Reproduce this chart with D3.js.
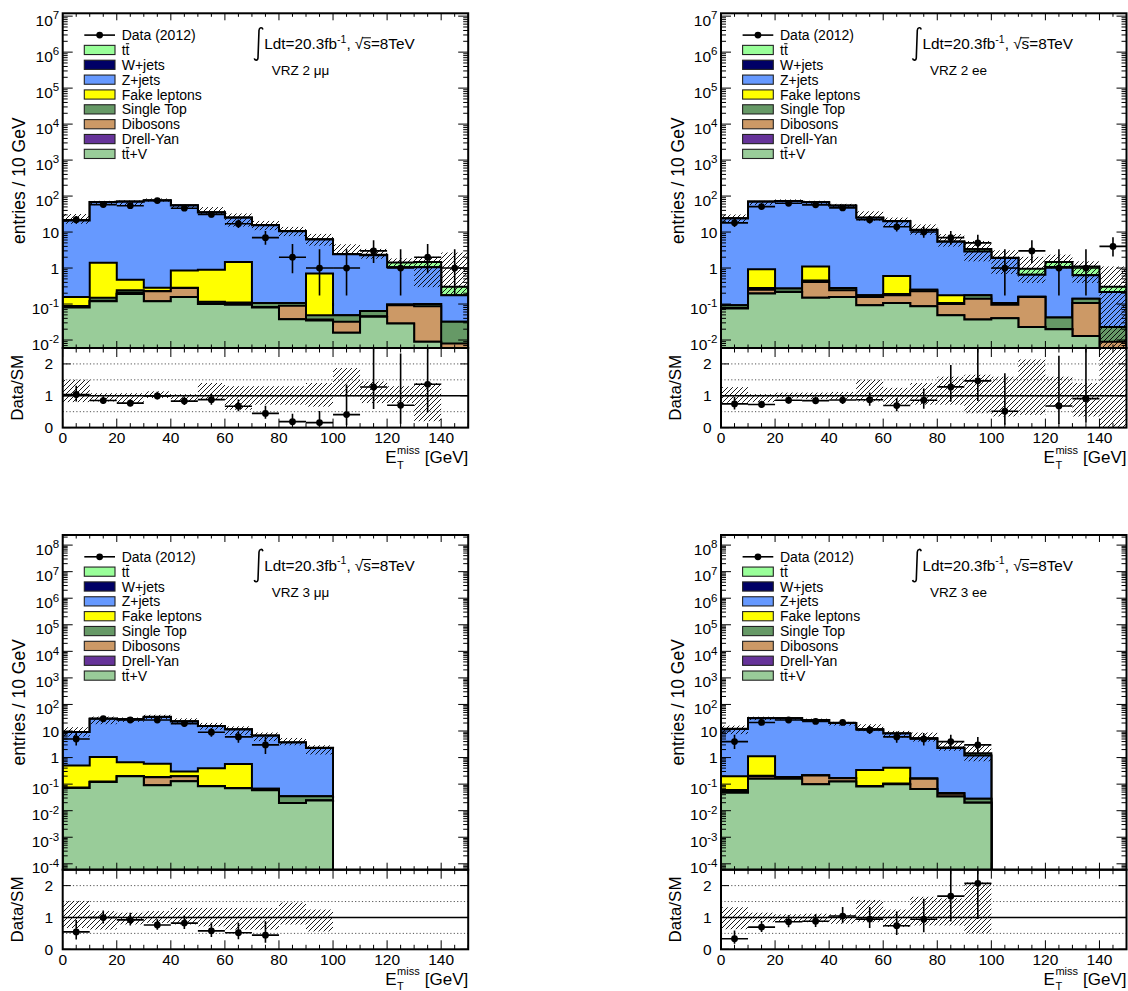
<!DOCTYPE html>
<html>
<head>
<meta charset="utf-8">
<script src="https://cdn.jsdelivr.net/npm/d3@7"></script>
<style>
  body { margin: 0; background: #fff; }
  svg { display: block; }
  text { font-family: "Liberation Sans", Arial, Helvetica, sans-serif; fill: #000; }
</style>
</head>
<body>
<svg id="chart" width="1128" height="991"></svg>
<script>
// ---- binning and axes -------------------------------------------------
const binEdges = [0, 10, 20, 30, 40, 50, 60, 70, 80, 90, 100, 110, 120, 130, 140, 150];
const xTickLabels = [0, 20, 40, 60, 80, 100, 120, 140];
const ratioTickLabels = [0, 1, 2];
const ratioGuides = [0.5, 1.5, 2];

// stacking order, bottom to top
const stackOrder = ["ttV", "drellyan", "dibosons", "singletop", "fakes", "zjets", "wjets", "ttbar"];
// legend order, top of the stack first
const legendOrder = ["ttbar", "wjets", "zjets", "fakes", "singletop", "dibosons", "drellyan", "ttV"];
const legendLabels = {
  ttbar: "tt", wjets: "W+jets", zjets: "Z+jets", fakes: "Fake leptons",
  singletop: "Single Top", dibosons: "Dibosons", drellyan: "Drell-Yan", ttV: "tt+V"
};
const sampleColors = {
  ttbar: "#99ff99", wjets: "#000066", zjets: "#6699ff", fakes: "#ffff00",
  singletop: "#669966", dibosons: "#cc9966", drellyan: "#663399", ttV: "#99cc99"
};

// ---- VRZ 2 mumu --------------------------------------------------------
const mm2_data      = [22, 58, 54, 75, 46, 31, 17, 7, 2, 1, 1, 3, 1, 2, 1];
const mm2_ttbar     = [0.2, 0.3, 0.3, 0.3, 0.3, 0.3, 0.3, 0.2, 0.2, 0.15, 0.05, 0.1, 0.38, 0.42, 0.125];
const mm2_wjets     = [0, 0, 0, 0, 0, 0, 0, 0, 0, 0, 0, 0, 0, 0, 0];
const mm2_zjets     = [20.8, 66.6, 69.5, 74.7, 54.1, 34.1, 23.5, 15.4, 10.4, 5.5, 2.35, 2.19, 0.95, 0.95, 0.143];
const mm2_fakes     = [0.07, 1.25, 0.235, 0.055, 0.575, 0.785, 1.36, 0, 0, 0.651, 0, 0, 0, 0, 0];
const mm2_singletop = [0.006, 0.027, 0.03, 0.005, 0.005, 0.01, 0.01, 0.024, 0.018, 0.012, 0.017, 0.018, 0.004, 0.013, 0.024];
const mm2_dibosons  = [0.002, 0.003, 0.02, 0.105, 0.123, 0.005, 0.005, 0.003, 0.051, 0.002, 0.016, 0.002, 0.064, 0.078, 0.005];
const mm2_drellyan  = [0, 0, 0, 0, 0, 0, 0, 0, 0, 0, 0, 0, 0, 0, 0];
const mm2_ttV       = [0.08, 0.12, 0.19, 0.12, 0.157, 0.1, 0.095, 0.08, 0.038, 0.035, 0.016, 0.044, 0.029, 0.009, 0.003];
const mm2_uncUp     = [1.5, 1.08, 1.08, 1.14, 1.05, 1.4, 1.3, 1.3, 1.3, 1.4, 1.87, 1.45, 1.3, 1.4, 9.0];
const mm2_uncDown   = [0.8, 0.82, 0.77, 0.93, 0.82, 0.87, 0.56, 0.72, 0.72, 0.66, 0.98, 0.77, 0.77, 0.2, 0.62];

// ---- VRZ 2 ee ----------------------------------------------------------
const ee2_data      = [18, 51, 63, 57, 47, 22, 14, 10, 7, 5, 1, 3, 1, 1, 4];
const ee2_ttbar     = [0.2, 0.3, 0.3, 0.3, 0.3, 0.2, 0.2, 0.15, 0.1, 0.5, 0.05, 0.31, 0.4, 0.47, 0.084];
const ee2_wjets     = [0, 0, 0, 0, 0, 0, 0, 0, 0, 0, 0, 0, 0, 0, 0];
const ee2_zjets     = [23.9, 69.1, 72.7, 65.9, 53.7, 24.8, 19.4, 11.25, 5.2, 2.73, 1.79, 0.49, 1.03, 0.49, 0.193];
const ee2_fakes     = [0, 0.64, 0, 0.65, 0, 0, 0.41, 0, 0.068, 0, 0, 0, 0, 0, 0];
const ee2_singletop = [0.015, 0.03, 0.05, 0.04, 0.04, 0.018, 0.015, 0.024, 0.007, 0.035, 0.011, 0.003, 0.022, 0.033, 0.014];
const ee2_dibosons  = [0.003, 0.055, 0.004, 0.26, 0.083, 0.064, 0.068, 0.139, 0.051, 0.103, 0.056, 0.134, 0, 0.094, 0.005];
const ee2_drellyan  = [0, 0, 0, 0, 0, 0, 0, 0, 0, 0, 0, 0, 0, 0, 0];
const ee2_ttV       = [0.075, 0.195, 0.216, 0.15, 0.157, 0.093, 0.107, 0.087, 0.049, 0.037, 0.04, 0.023, 0.02, 0.013, 0.004];
const ee2_uncUp     = [1.27, 1.05, 1.1, 1.1, 1.12, 1.5, 1.25, 1.4, 1.6, 1.66, 1.6, 2.14, 1.6, 1.4, 3.7];
const ee2_uncDown   = [0.78, 0.8, 0.92, 0.9, 0.88, 0.82, 0.72, 0.72, 0.72, 0.45, 0.35, 0.4, 0.66, 0.35, 0.02];

// ---- VRZ 3 mumu --------------------------------------------------------
const mm3_data      = [5, 29, 26, 26, 19, 9, 6, 3, 0, 0, 0, 0, 0, 0, 0];
const mm3_ttbar     = [0.05, 0.1, 0.1, 0.1, 0.1, 0.05, 0.05, 0.05, 0.03, 0.03, 0, 0, 0, 0, 0];
const mm3_wjets     = [0, 0, 0, 0, 0, 0, 0, 0, 0, 0, 0, 0, 0, 0, 0];
const mm3_zjets     = [8.6, 27.95, 27.34, 33.41, 22.7, 15.1, 10.93, 6.63, 3.665, 2.265, 0, 0, 0, 0, 0];
const mm3_fakes     = [0.425, 0.925, 0.46, 0.405, 0.1, 0.315, 0.498, 0, 0, 0, 0, 0, 0, 0, 0];
const mm3_singletop = [0.003, 0.005, 0.003, 0.005, 0.003, 0.002, 0.002, 0.008, 0.0154, 0.011, 0, 0, 0, 0, 0];
const mm3_dibosons  = [0, 0, 0, 0.09, 0.069, 0, 0, 0, 0, 0, 0, 0, 0, 0, 0];
const mm3_drellyan  = [0, 0, 0, 0, 0, 0, 0, 0, 0, 0, 0, 0, 0, 0, 0];
const mm3_ttV       = [0.072, 0.12, 0.197, 0.09, 0.128, 0.083, 0.07, 0.059, 0.0196, 0.024, 0, 0, 0, 0, 0];
const mm3_uncUp     = [1.52, 1.2, 1.15, 1.2, 1.3, 1.3, 1.3, 1.3, 1.47, 1.25, null, null, null, null, null];
const mm3_uncDown   = [0.67, 0.62, 0.78, 0.83, 0.78, 0.72, 0.62, 0.62, 0.78, 0.56, null, null, null, null, null];

// ---- VRZ 3 ee ----------------------------------------------------------
const ee3_data      = [4, 21, 26, 23, 21, 11, 6, 5, 4, 3, 0, 0, 0, 0, 0];
const ee3_ttbar     = [0.1, 0.1, 0.1, 0.1, 0.1, 0.1, 0.1, 0.1, 0.1, 0.26, 0, 0, 0, 0, 0];
const ee3_wjets     = [0, 0, 0, 0, 0, 0, 0, 0, 0, 0, 0, 0, 0, 0, 0];
const ee3_zjets     = [11.8, 28.88, 29.82, 25.79, 19.83, 11.16, 7.59, 5.04, 2.25, 1.16, 0, 0, 0, 0, 0];
const ee3_fakes     = [0.14, 0.915, 0, 0, 0, 0.255, 0.305, 0, 0, 0, 0, 0, 0, 0, 0];
const ee3_singletop = [0.008, 0.005, 0.005, 0.005, 0.003, 0.004, 0.005, 0.004, 0.003, 0.008, 0, 0, 0, 0, 0];
const ee3_dibosons  = [0.005, 0.042, 0.022, 0.11, 0.042, 0, 0, 0.092, 0.009, 0, 0, 0, 0, 0, 0];
const ee3_drellyan  = [0, 0, 0, 0, 0, 0, 0, 0, 0, 0, 0, 0, 0, 0, 0];
const ee3_ttV       = [0.047, 0.158, 0.158, 0.1, 0.125, 0.081, 0.1, 0.066, 0.034, 0.02, 0, 0, 0, 0, 0];
const ee3_uncUp     = [1.32, 1.15, 1.1, 1.12, 1.1, 1.55, 1.25, 1.65, 1.6, 2.1, null, null, null, null, null];
const ee3_uncDown   = [0.63, 0.85, 0.88, 0.85, 0.8, 0.85, 0.7, 0.75, 0.75, 0.5, null, null, null, null, null];

// ---- region table built from the arrays above ------------------------
const regions = [
  { label: "VRZ 2 μμ", yDomain: [0.006, 1.2e7], data: mm2_data, uncUp: mm2_uncUp, uncDown: mm2_uncDown,
    samples: { ttbar: mm2_ttbar, wjets: mm2_wjets, zjets: mm2_zjets, fakes: mm2_fakes, singletop: mm2_singletop,
               dibosons: mm2_dibosons, drellyan: mm2_drellyan, ttV: mm2_ttV } },
  { label: "VRZ 2 ee", yDomain: [0.006, 1.2e7], data: ee2_data, uncUp: ee2_uncUp, uncDown: ee2_uncDown,
    samples: { ttbar: ee2_ttbar, wjets: ee2_wjets, zjets: ee2_zjets, fakes: ee2_fakes, singletop: ee2_singletop,
               dibosons: ee2_dibosons, drellyan: ee2_drellyan, ttV: ee2_ttV } },
  { label: "VRZ 3 μμ", yDomain: [6e-5, 2.4e8], data: mm3_data, uncUp: mm3_uncUp, uncDown: mm3_uncDown,
    samples: { ttbar: mm3_ttbar, wjets: mm3_wjets, zjets: mm3_zjets, fakes: mm3_fakes, singletop: mm3_singletop,
               dibosons: mm3_dibosons, drellyan: mm3_drellyan, ttV: mm3_ttV } },
  { label: "VRZ 3 ee", yDomain: [6e-5, 2.4e8], data: ee3_data, uncUp: ee3_uncUp, uncDown: ee3_uncDown,
    samples: { ttbar: ee3_ttbar, wjets: ee3_wjets, zjets: ee3_zjets, fakes: ee3_fakes, singletop: ee3_singletop,
               dibosons: ee3_dibosons, drellyan: ee3_drellyan, ttV: ee3_ttV } }
];

// ---- layout -------------------------------------------------------------
const panelOrigins = [[62.7, 13.3], [721, 13.3], [62.7, 535], [721, 535]];
const plotW = 405.5, mainH = 334.7, ratioH = 79.6;
const ratioMax = 2.5;
const ratioBandLimit = 5;   // uncertainty bands reaching past this factor are left out of the ratio pad

// approximate 1-sigma Poisson interval for an observed count
function poissonUp(n) { return n + Math.sqrt(n + 0.75) + 1; }
function poissonDown(n) {
  if (n <= 0) return 0;
  const t = 1 - 1 / (9 * n) - 1 / (3 * Math.sqrt(n));
  return n * t * t * t;
}

const svg = d3.select("#chart");
const defs = svg.append("defs");
defs.append("pattern")
  .attr("id", "hatch").attr("patternUnits", "userSpaceOnUse")
  .attr("width", 5).attr("height", 5)
  .append("path")
  .attr("d", "M-1,1 l2,-2 M0,5 l5,-5 M4,6 l2,-2")
  .attr("stroke", "#000").attr("stroke-width", 0.9);

// draw a text with one barred character (t-bar)
function barChar(textSel, index, size) {
  const node = textSel.node();
  const ext = node.getExtentOfChar(index);
  const base = +textSel.attr("y");
  textSel.select(function () { return this.parentNode; }).append("line")
    .attr("x1", ext.x + 0.3).attr("x2", ext.x + ext.width - 0.3)
    .attr("y1", base - 0.8 * size).attr("y2", base - 0.8 * size)
    .attr("stroke", "#000").attr("stroke-width", 1);
}

regions.forEach((reg, idx) => {
  const [x0, y0] = panelOrigins[idx];
  const yMainBottom = y0 + mainH;
  const yRatioBottom = y0 + mainH + ratioH;
  const g = svg.append("g");

  const x = d3.scaleLinear().domain([binEdges[0], binEdges[binEdges.length - 1]]).range([x0, x0 + plotW]);
  const y = d3.scaleLog().domain(reg.yDomain).range([yMainBottom, y0]);
  const yr = d3.scaleLinear().domain([0, ratioMax]).range([yRatioBottom, yMainBottom]);

  defs.append("clipPath").attr("id", "clipMain" + idx)
    .append("rect").attr("x", x0).attr("y", y0).attr("width", plotW).attr("height", mainH);
  defs.append("clipPath").attr("id", "clipRatio" + idx)
    .append("rect").attr("x", x0).attr("y", yMainBottom).attr("width", plotW).attr("height", ratioH);

  const main = g.append("g").attr("clip-path", `url(#clipMain${idx})`);
  const ratio = g.append("g").attr("clip-path", `url(#clipRatio${idx})`);

  // cumulative stack
  const nBins = binEdges.length - 1;
  let running = new Array(nBins).fill(0);
  const layers = stackOrder.map(key => {
    running = running.map((c, i) => c + reg.samples[key][i]);
    return { key, tops: running.slice() };
  });
  const total = layers[layers.length - 1].tops;

  // filled histograms, drawn from the full stack down to the lowest sample
  layers.slice().reverse().forEach(layer => {
    let d = `M${x(binEdges[0])},${yMainBottom + 3}`;
    layer.tops.forEach((v, i) => {
      const yy = v > 0 ? Math.min(yMainBottom + 3, y(v)) : yMainBottom + 3;
      d += `L${x(binEdges[i])},${yy}L${x(binEdges[i + 1])},${yy}`;
    });
    d += `L${x(binEdges[nBins])},${yMainBottom + 3}Z`;
    main.append("path").attr("d", d)
      .attr("fill", sampleColors[layer.key])
      .attr("stroke", "#000").attr("stroke-width", 2).attr("stroke-linejoin", "miter");
  });

  // MC uncertainty band
  total.forEach((t, i) => {
    if (reg.uncUp[i] == null || t <= 0) return;
    const top = y(t * reg.uncUp[i]);
    const bot = reg.uncDown[i] > 0 ? Math.min(yMainBottom + 2, y(t * reg.uncDown[i])) : yMainBottom + 2;
    main.append("rect")
      .attr("x", x(binEdges[i])).attr("width", x(binEdges[i + 1]) - x(binEdges[i]))
      .attr("y", top).attr("height", bot - top)
      .attr("fill", "url(#hatch)");
  });

  // data points
  reg.data.forEach((n, i) => {
    if (n <= 0) return;
    const cx = x((binEdges[i] + binEdges[i + 1]) / 2);
    main.append("line").attr("x1", x(binEdges[i])).attr("x2", x(binEdges[i + 1]))
      .attr("y1", y(n)).attr("y2", y(n)).attr("stroke", "#000").attr("stroke-width", 1.6);
    main.append("line").attr("x1", cx).attr("x2", cx)
      .attr("y1", y(poissonUp(n))).attr("y2", y(poissonDown(n)))
      .attr("stroke", "#000").attr("stroke-width", 1.6);
    main.append("circle").attr("cx", cx).attr("cy", y(n)).attr("r", 3.4).attr("fill", "#000");
  });

  // ---- ratio pad --------------------------------------------------------
  ratioGuides.forEach(v => {
    ratio.append("line").attr("x1", x0).attr("x2", x0 + plotW)
      .attr("y1", yr(v)).attr("y2", yr(v))
      .attr("stroke", "#555").attr("stroke-width", 1).attr("stroke-dasharray", "1.2,2.2");
  });
  total.forEach((t, i) => {
    if (reg.uncUp[i] == null || t <= 0 || reg.uncUp[i] > ratioBandLimit) return;
    const top = yr(reg.uncUp[i]);
    const bot = yr(reg.uncDown[i]);
    ratio.append("rect")
      .attr("x", x(binEdges[i])).attr("width", x(binEdges[i + 1]) - x(binEdges[i]))
      .attr("y", top).attr("height", bot - top)
      .attr("fill", "url(#hatch)");
  });
  ratio.append("line").attr("x1", x0).attr("x2", x0 + plotW)
    .attr("y1", yr(1)).attr("y2", yr(1)).attr("stroke", "#000").attr("stroke-width", 1.4);

  reg.data.forEach((n, i) => {
    const t = total[i];
    if (n <= 0 || t <= 0) return;
    const r = n / t;
    if (r > ratioMax) return;
    const cx = x((binEdges[i] + binEdges[i + 1]) / 2);
    ratio.append("line").attr("x1", x(binEdges[i])).attr("x2", x(binEdges[i + 1]))
      .attr("y1", yr(r)).attr("y2", yr(r)).attr("stroke", "#000").attr("stroke-width", 1.6);
    ratio.append("line").attr("x1", cx).attr("x2", cx)
      .attr("y1", yr(poissonUp(n) / t)).attr("y2", yr(poissonDown(n) / t))
      .attr("stroke", "#000").attr("stroke-width", 1.6);
    ratio.append("circle").attr("cx", cx).attr("cy", yr(r)).attr("r", 3.4).attr("fill", "#000");
  });

  // ---- frames and ticks ---------------------------------------------------
  const tick = (x1, y1, x2, y2) => g.append("line")
    .attr("x1", x1).attr("y1", y1).attr("x2", x2).attr("y2", y2)
    .attr("stroke", "#000").attr("stroke-width", 1);

  for (let v = binEdges[0]; v <= binEdges[nBins]; v += 5) {
    const major = v % 20 === 0;
    const px = x(v);
    const lm = major ? 7 : 3.5, lr = major ? 9 : 4.5;
    tick(px, yMainBottom, px, yMainBottom - lm);
    tick(px, y0, px, y0 + lm);
    tick(px, yMainBottom, px, yMainBottom + lr);
    tick(px, yRatioBottom, px, yRatioBottom - lr);
  }

  const [dMin, dMax] = reg.yDomain;
  const eLo = Math.floor(Math.log10(dMin)), eHi = Math.floor(Math.log10(dMax));
  for (let e = eLo; e <= eHi; e++) {
    for (let k = 1; k <= 9; k++) {
      const v = k * Math.pow(10, e);
      if (v < dMin * 0.999 || v > dMax) continue;
      const py = y(v);
      const len = k === 1 ? 10 : 5;
      tick(x0, py, x0 + len, py);
      tick(x0 + plotW, py, x0 + plotW - len, py);
    }
  }
  ratioTickLabels.forEach(v => {
    tick(x0, yr(v), x0 + 8, yr(v));
    tick(x0 + plotW, yr(v), x0 + plotW - 8, yr(v));
  });

  g.append("rect").attr("x", x0).attr("y", y0).attr("width", plotW).attr("height", mainH)
    .attr("fill", "none").attr("stroke", "#000").attr("stroke-width", 2);
  g.append("rect").attr("x", x0).attr("y", yMainBottom).attr("width", plotW).attr("height", ratioH)
    .attr("fill", "none").attr("stroke", "#000").attr("stroke-width", 2);

  // ---- tick labels --------------------------------------------------------
  for (let e = Math.ceil(Math.log10(dMin)); e <= eHi; e++) {
    const py = y(Math.pow(10, e));
    const t = g.append("text").attr("text-anchor", "end").attr("x", x0 - 3.5).attr("font-size", 15.5);
    if (e === 0 || e === 1) {
      t.attr("y", py + 5.6).text(e === 0 ? "1" : "10");
    } else {
      t.attr("y", py + 9.6);
      t.append("tspan").text("10");
      t.append("tspan").attr("font-size", 11.5).attr("dy", -6.3).text(String(e));
    }
  }
  ratioTickLabels.forEach(v => {
    g.append("text").attr("text-anchor", "end").attr("x", x0 - 9.5).attr("y", yr(v) + 5.5)
      .attr("font-size", 15.5).text(String(v));
  });
  xTickLabels.forEach(v => {
    g.append("text").attr("text-anchor", "middle").attr("x", x(v)).attr("y", yRatioBottom + 15.8)
      .attr("font-size", 15.5).text(String(v));
  });

  // ---- axis titles --------------------------------------------------------
  g.append("text").attr("transform", `translate(${x0 - 37.4},${y0 + mainH / 2}) rotate(-90)`)
    .attr("text-anchor", "middle").attr("font-size", 17.5).text("entries / 10 GeV");
  g.append("text").attr("transform", `translate(${x0 - 39.7},${yMainBottom + ratioH / 2}) rotate(-90)`)
    .attr("text-anchor", "middle").attr("font-size", 17).text("Data/SM");

  const xt = g.append("g");
  const baseY = yRatioBottom + 35.6;
  const tE = xt.append("text").attr("x", 0).attr("y", baseY).attr("font-size", 17).text("E");
  const wE = tE.node().getComputedTextLength();
  const tT = xt.append("text").attr("x", wE + 0.5).attr("y", baseY + 5.5).attr("font-size", 11).text("T");
  const tM = xt.append("text").attr("x", wE + 0.5).attr("y", baseY - 9.5).attr("font-size", 11).text("miss");
  const wSub = Math.max(tT.node().getComputedTextLength(), tM.node().getComputedTextLength());
  const tG = xt.append("text").attr("x", wE + wSub + 5.5).attr("y", baseY).attr("font-size", 17).text("[GeV]");
  const wTot = wE + wSub + 5.5 + tG.node().getComputedTextLength();
  xt.attr("transform", `translate(${x0 + plotW - wTot},0)`);

  // ---- legend -------------------------------------------------------------
  const lg = g.append("g");
  const rowY = i => y0 + 21.8 + 14.85 * i;
  const boxX = x0 + 21.6, boxW = 30.7, textX = x0 + 59;
  lg.append("line").attr("x1", boxX).attr("x2", boxX + boxW).attr("y1", rowY(0)).attr("y2", rowY(0))
    .attr("stroke", "#000").attr("stroke-width", 1.6);
  lg.append("circle").attr("cx", boxX + boxW / 2).attr("cy", rowY(0)).attr("r", 3.4).attr("fill", "#000");
  lg.append("text").attr("x", textX).attr("y", rowY(0) + 5).attr("font-size", 14).text("Data (2012)");
  legendOrder.forEach((key, j) => {
    const ry = rowY(j + 1);
    lg.append("rect").attr("x", boxX).attr("y", ry - 4.6).attr("width", boxW).attr("height", 9.2)
      .attr("fill", sampleColors[key]).attr("stroke", "#222").attr("stroke-width", 1.1);
    const t = lg.append("text").attr("x", textX).attr("y", ry + 5).attr("font-size", 14).text(legendLabels[key]);
    if (key === "ttbar" || key === "ttV") barChar(t, 1, 14);
  });

  // ---- luminosity and region labels ----------------------------------------
  const lx = x0 + 201.6, ly = y0 + 36;
  g.append("path")
    .attr("d", `M${x0 + 200.2},${y0 + 16.2} C${x0 + 199.6},${y0 + 13.6} ${x0 + 196.6},${y0 + 13.8} ${x0 + 196.3},${y0 + 17}
                L${x0 + 195.3},${y0 + 44.5} C${x0 + 195},${y0 + 47.6} ${x0 + 192},${y0 + 47.4} ${x0 + 191.6},${y0 + 45}`)
    .attr("fill", "none").attr("stroke", "#000").attr("stroke-width", 1.6);
  const lumi = g.append("text").attr("x", lx).attr("y", ly).attr("font-size", 15.3);
  lumi.append("tspan").text("Ldt=20.3fb");
  lumi.append("tspan").attr("font-size", 10.5).attr("dy", -6.8).text("-1");
  lumi.append("tspan").attr("dy", 6.8).text(", √s=8TeV");
  const sqrtExt = lumi.node().getExtentOfChar(14);
  const sExt = lumi.node().getExtentOfChar(15);
  g.append("line").attr("x1", sqrtExt.x + sqrtExt.width * 0.85).attr("x2", sExt.x + sExt.width)
    .attr("y1", ly - 11.5).attr("y2", ly - 11.5).attr("stroke", "#000").attr("stroke-width", 1);
  g.append("text").attr("x", x0 + 209).attr("y", y0 + 61.7).attr("font-size", 13.5).text(reg.label);
});
</script>
</body>
</html>
